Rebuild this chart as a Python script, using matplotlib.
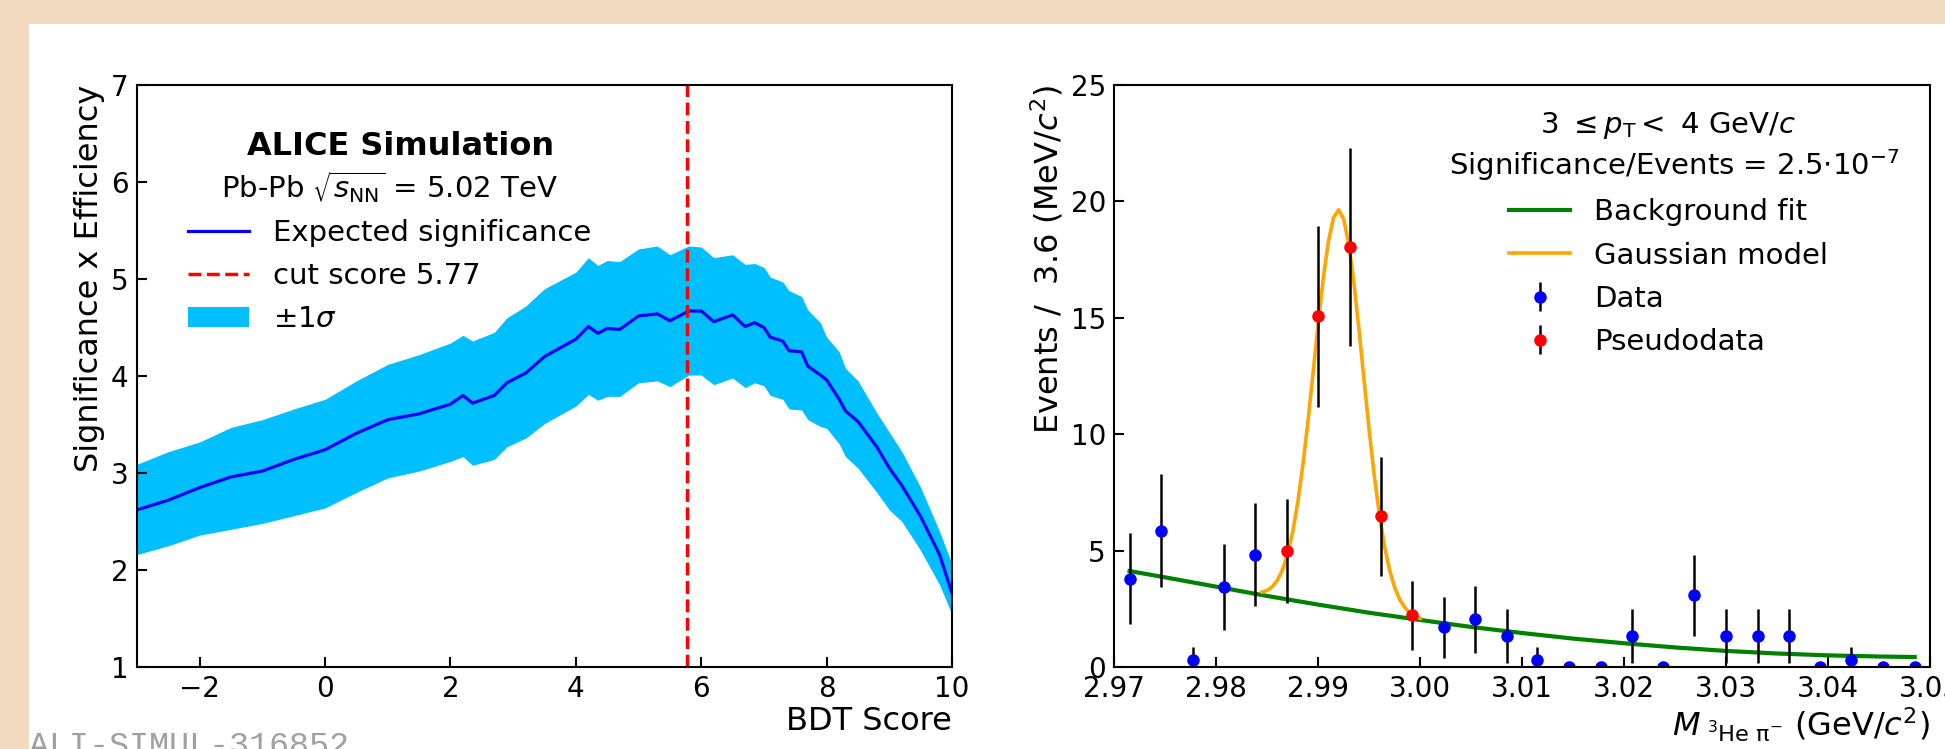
import numpy as np
import matplotlib
matplotlib.use("Agg")
import matplotlib.pyplot as plt
from matplotlib.patches import Rectangle

# --- left panel: expected significance x efficiency vs BDT score ---
bdt_score = [-3.0, -2.5, -2.0, -1.5, -1.0, -0.5, 0.0, 0.5, 1.0, 1.5, 2.0, 2.2, 2.35, 2.7, 2.9,
             3.2, 3.5, 4.0, 4.2, 4.35, 4.5, 4.7, 5.0, 5.3, 5.5, 5.8, 6.0, 6.2, 6.5, 6.7, 6.85,
             7.0, 7.1, 7.3, 7.4, 7.6, 7.7, 7.9, 8.0, 8.2, 8.3, 8.5, 8.8, 9.0, 9.2, 9.5, 9.8, 10.0]
sig_mid = [2.62, 2.72, 2.85, 2.96, 3.02, 3.14, 3.24, 3.41, 3.55, 3.61, 3.71, 3.80, 3.72, 3.80, 3.93,
           4.03, 4.20, 4.38, 4.51, 4.44, 4.49, 4.48, 4.62, 4.64, 4.57, 4.67, 4.67, 4.56, 4.63, 4.51, 4.55,
           4.50, 4.40, 4.36, 4.26, 4.25, 4.10, 4.01, 3.96, 3.76, 3.64, 3.53, 3.27, 3.05, 2.87, 2.55, 2.16, 1.76]
sig_high = [3.09, 3.22, 3.32, 3.47, 3.55, 3.66, 3.76, 3.95, 4.12, 4.22, 4.34, 4.42, 4.36, 4.45, 4.60,
            4.72, 4.90, 5.07, 5.22, 5.14, 5.19, 5.18, 5.31, 5.34, 5.25, 5.34, 5.33, 5.22, 5.25, 5.15, 5.16,
            5.12, 5.02, 4.97, 4.88, 4.82, 4.68, 4.55, 4.40, 4.25, 4.08, 3.95, 3.62, 3.42, 3.22, 2.85, 2.40, 2.06]
sig_low = [2.16, 2.25, 2.36, 2.42, 2.48, 2.56, 2.64, 2.80, 2.95, 3.02, 3.12, 3.17, 3.08, 3.14, 3.27,
           3.36, 3.51, 3.69, 3.81, 3.75, 3.79, 3.79, 3.93, 3.95, 3.89, 4.01, 4.01, 3.91, 3.98, 3.88, 3.93,
           3.90, 3.80, 3.76, 3.66, 3.65, 3.55, 3.48, 3.46, 3.30, 3.17, 3.05, 2.80, 2.62, 2.50, 2.20, 1.85, 1.54]
cut_score = 5.77

# --- right panel: invariant mass spectrum ---
data_x = [2.9715, 2.9746, 2.9777, 2.9808, 2.9838, 3.0023, 3.0054, 3.0085, 3.0115, 3.0146, 3.0177,
          3.0208, 3.0238, 3.0269, 3.0300, 3.0331, 3.0362, 3.0392, 3.0423, 3.0454, 3.0485]
data_y = [3.80, 5.85, 0.31, 3.43, 4.83, 1.70, 2.05, 1.34, 0.31, 0, 0,
          1.34, 0, 3.08, 1.34, 1.34, 1.34, 0, 0.31, 0, 0]
data_err = [1.95, 2.42, 0.56, 1.85, 2.20, 1.30, 1.43, 1.16, 0.56, 0, 0,
            1.16, 0, 1.75, 1.16, 1.16, 1.16, 0, 0.56, 0, 0]

pseudo_x = [2.9869, 2.9900, 2.9931, 2.9962, 2.9992]
pseudo_y = [4.97, 15.06, 18.04, 6.47, 2.22]
pseudo_err = [2.23, 3.88, 4.25, 2.54, 1.49]

bkg_x = [2.9715, 2.975, 2.98, 2.985, 2.99, 2.995, 3.00, 3.005, 3.01, 3.015, 3.02,
         3.025, 3.03, 3.035, 3.04, 3.045, 3.0485]
bkg_y = [4.12, 3.85, 3.45, 3.05, 2.68, 2.33, 2.02, 1.72, 1.46, 1.22, 1.02,
         0.84, 0.69, 0.58, 0.50, 0.45, 0.43]

gaus_x = [2.9845, 2.9850, 2.9855, 2.9860, 2.9865, 2.9870, 2.9875, 2.9880, 2.9885, 2.9890, 2.9895,
          2.9900, 2.9905, 2.9910, 2.9915, 2.9920, 2.9925, 2.9930, 2.9935, 2.9940, 2.9945, 2.9950,
          2.9955, 2.9960, 2.9965, 2.9970, 2.9975, 2.9980, 2.9985, 2.9990, 2.9995, 3.0000]
gaus_y = [3.22, 3.29, 3.45, 3.73, 4.18, 4.85, 5.81, 7.09, 8.70, 10.58, 12.66,
          14.76, 16.71, 18.29, 19.30, 19.64, 19.23, 18.15, 16.50, 14.48, 12.31, 10.16,
          8.21, 6.54, 5.19, 4.16, 3.41, 2.89, 2.55, 2.32, 2.18, 2.09]

W, H = 1945, 749
fig = plt.figure(figsize=(W / 100, H / 100), dpi=100)
fig.patch.set_facecolor("#f3dbbf")
fig.patches.append(Rectangle((29 / W, 0), 1, (H - 24) / H, transform=fig.transFigure,
                             facecolor="white", edgecolor="none", zorder=-1))

def style_axes(ax):
    ax.tick_params(direction="in", length=7, width=1.5, labelsize=20, pad=6)
    for s in ax.spines.values():
        s.set_linewidth(1.5)

# left
ax1 = fig.add_axes([137 / W, (H - 667) / H, 815 / W, 582 / H])
band = ax1.fill_between(bdt_score, sig_low, sig_high, color="#00bfff", linewidth=0, label=r"$\pm1\sigma$")
line, = ax1.plot(bdt_score, sig_mid, color="blue", lw=2.3, label="Expected significance")
cut = ax1.axvline(cut_score, color="red", ls="--", lw=2.5, label="cut score 5.77")
ax1.set_xlim(-3, 10)
ax1.set_ylim(1, 7)
ax1.set_xticks([-2, 0, 2, 4, 6, 8, 10])
style_axes(ax1)
ax1.set_xlabel("BDT Score", fontsize=23, loc="right", labelpad=2)
ax1.set_ylabel("Significance x Efficiency", fontsize=23, loc="top")
ax1.text(0.323, 0.880, "ALICE Simulation", transform=ax1.transAxes, ha="center", va="baseline",
         fontsize=23, fontweight="bold")
ax1.text(0.310, 0.806, r"Pb-Pb $\sqrt{s_{\rm NN}}$ = 5.02 TeV", transform=ax1.transAxes,
         ha="center", va="baseline", fontsize=21)
ax1.legend(handles=[line, cut, band], loc="upper left", bbox_to_anchor=(0.0626, 0.770),
           frameon=False, fontsize=21, borderpad=0, borderaxespad=0, handlelength=2.1,
           handletextpad=0.8, labelspacing=0.52)

# right
ax2 = fig.add_axes([1114.3 / W, (H - 667) / H, 815.7 / W, 582 / H])
bkg, = ax2.plot(bkg_x, bkg_y, color="green", lw=3, label="Background fit")
gaus, = ax2.plot(gaus_x, gaus_y, color="orange", lw=2.6, label="Gaussian model")
dat = ax2.errorbar(data_x, data_y, yerr=data_err, fmt="o", color="blue", ecolor="black",
                   elinewidth=1.8, ms=8, label="Data")
pse = ax2.errorbar(pseudo_x, pseudo_y, yerr=pseudo_err, fmt="o", color="red", ecolor="black",
                   elinewidth=1.8, ms=8, label="Pseudodata")
ax2.set_xlim(2.97, 3.05)
ax2.set_ylim(0, 25)
ax2.set_xticks([2.97, 2.98, 2.99, 3.00, 3.01, 3.02, 3.03, 3.04, 3.05])
ax2.set_xticklabels(["2.97", "2.98", "2.99", "3.00", "3.01", "3.02", "3.03", "3.04", "3.05"])
style_axes(ax2)
ax2.set_xlabel(r"$M_{\ ^{3}\mathrm{He}\ \mathrm{\pi}^{-}}$ (GeV/$c^{2}$)", fontsize=23,
               loc="right", labelpad=2)
ax2.set_ylabel(r"Events /  3.6 (MeV/$c^{2}$)", fontsize=23, loc="top")
ax2.text(0.679, 0.9175, r"3 $\leq p_{\rm T} <$ 4 GeV/$c$", transform=ax2.transAxes,
         ha="center", va="baseline", fontsize=21)
ax2.text(0.686, 0.845, r"Significance/Events = 2.5$\cdot$10$^{-7}$", transform=ax2.transAxes,
         ha="center", va="baseline", fontsize=21)
ax2.legend(handles=[bkg, gaus, dat, pse], loc="upper left", bbox_to_anchor=(0.484, 0.805),
           frameon=False, fontsize=21, borderpad=0, borderaxespad=0, handlelength=2.1,
           handletextpad=0.8, labelspacing=0.52)

fig.text(29 / W, -6 / H, "ALI-SIMUL-316852", fontsize=24, color="#a0a0a0",
         family="Liberation Mono", va="baseline", ha="left")

fig.savefig("out.png", dpi=100, facecolor=fig.get_facecolor())
